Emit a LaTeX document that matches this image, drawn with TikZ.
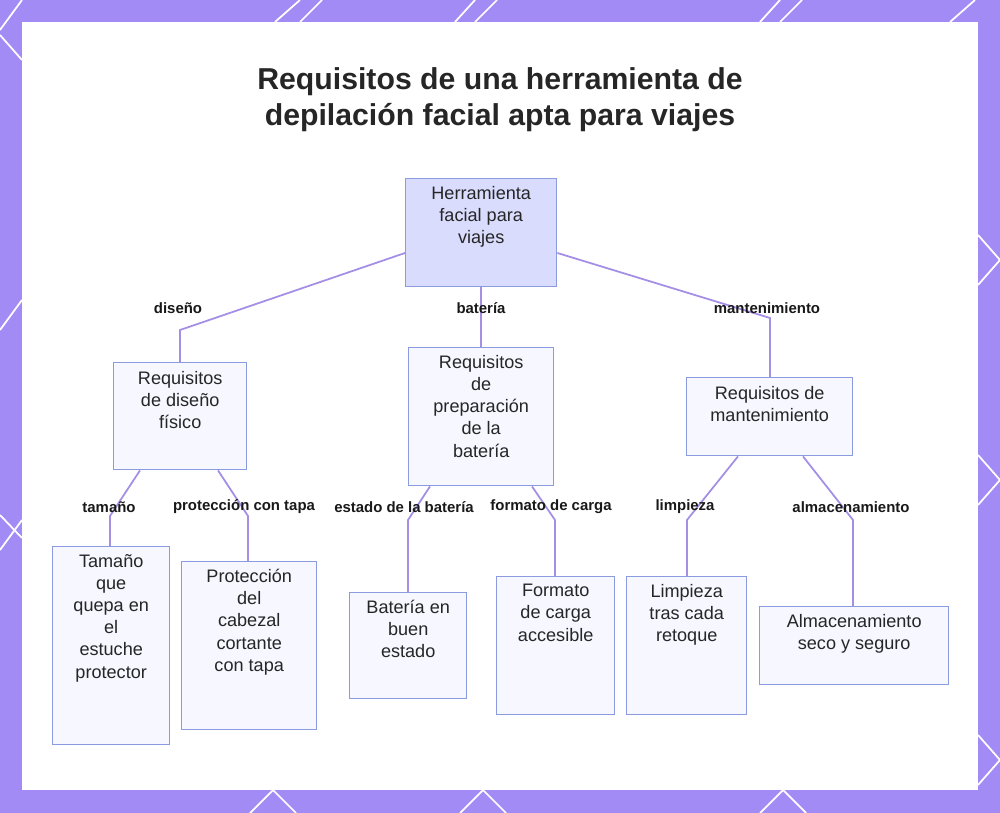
\documentclass[tikz,border=0pt]{standalone}
\usepackage{fontspec}
\setmainfont{Liberation Sans}
\begin{document}
\begin{tikzpicture}[x=0.02cm,y=-0.02cm,
 box/.style={draw=boxb,fill=boxf,line width=0.8pt,anchor=north west,inner sep=0pt},
 txt/.style={anchor=north,align=center,font=\fontsize{10.3}{12.6}\selectfont,text=black!85,inner sep=0pt},
 lab/.style={font=\bfseries\fontsize{8.5}{10}\selectfont,text=black!90,inner sep=1pt},
 con/.style={draw=linec,line width=1pt}]
\definecolor{purp}{HTML}{A38BF5}
\definecolor{boxb}{HTML}{8A9BE0}
\definecolor{boxf}{HTML}{F6F7FF}
\definecolor{rootf}{HTML}{D9DCFD}
\definecolor{linec}{HTML}{A48EE6}
\useasboundingbox (0,0) rectangle (1000,813);
\fill[purp] (0,0) rectangle (1000,813);
\begin{scope}
\clip (0,0) rectangle (1000,813);
\foreach \a/\b in {275/300,455/475,760/780,950/975}{
 \draw[white,line width=1pt] (\a,22) -- (\b,0);}
\foreach \a/\b in {300/275,475/455,780/760}{
 \draw[white,line width=1pt] (\a,22) -- (\a+22,0);}
\foreach \a in {0,300,520}{\draw[white,line width=1pt] (0,\a+30) -- (22,\a);}
\foreach \a in {260,480,760}{\draw[white,line width=1pt] (978,\a+25) -- (1000,\a);}
\foreach \a in {260,480,760}{\draw[white,line width=1pt] (978,\a-25) -- (1000,\a);}
\draw[white,line width=1pt] (0,515) -- (22,538);
\draw[white,line width=1pt] (0,35) -- (22,60);
\foreach \a in {250,460,760}{\draw[white,line width=1pt] (\a,813) -- (\a+23,790); \draw[white,line width=1pt] (\a+23,790) -- (\a+46,813);}
\end{scope}
\fill[white!97!black!2] (22,22) rectangle (978,790);
\node[font=\bfseries\fontsize{17.2}{20.5}\selectfont,align=center,text=black!85] (title) at (500,100) {Requisitos de una herramienta de\\depilación facial apta para viajes};
% boxes
\node[box,fill=rootf,minimum width=151*0.02cm,minimum height=108*0.02cm] (root) at (405,178) {};
\node[txt] (rootT) at ([yshift=-0.16cm]root.north) {Herramienta\\facial para\\viajes};
\node[box,minimum width=133*0.02cm,minimum height=107*0.02cm] (A) at (113,362) {};
\node[txt] (AT) at ([yshift=-0.18cm]A.north) {Requisitos\\de diseño\\físico};
\node[box,minimum width=145*0.02cm,minimum height=138*0.02cm] (B) at (408,347) {};
\node[txt] (BT) at ([yshift=-0.16cm]B.north) {Requisitos\\de\\preparación\\de la\\batería};
\node[box,minimum width=166*0.02cm,minimum height=78*0.02cm] (C) at (686,377) {};
\node[txt] (CT) at ([yshift=-0.18cm]C.north) {Requisitos de\\mantenimiento};
\node[box,minimum width=117*0.02cm,minimum height=198*0.02cm] (L1) at (52,546) {};
\node[txt] (L1T) at ([yshift=-0.16cm]L1.north) {Tamaño\\que\\quepa en\\el\\estuche\\protector};
\node[box,minimum width=135*0.02cm,minimum height=168*0.02cm] (L2) at (181,561) {};
\node[txt] (L2T) at ([yshift=-0.16cm]L2.north) {Protección\\del\\cabezal\\cortante\\con tapa};
\node[box,minimum width=117*0.02cm,minimum height=106*0.02cm] (L3) at (349,592) {};
\node[txt] (L3T) at ([yshift=-0.16cm]L3.north) {Batería en\\buen\\estado};
\node[box,minimum width=118*0.02cm,minimum height=138*0.02cm] (L4) at (496,576) {};
\node[txt] (L4T) at ([yshift=-0.16cm]L4.north) {Formato\\de carga\\accesible};
\node[box,minimum width=120*0.02cm,minimum height=138*0.02cm] (L5) at (626,576) {};
\node[txt] (L5T) at ([yshift=-0.16cm]L5.north) {Limpieza\\tras cada\\retoque};
\node[box,minimum width=189*0.02cm,minimum height=78*0.02cm] (L6) at (759,606) {};
\node[txt] (L6T) at ([yshift=-0.16cm]L6.north) {Almacenamiento\\seco y seguro};
% connectors
\coordinate (j1) at (180,330); \coordinate (j3) at (770,318);
\draw[con] (root.west|-0,253) -- (j1) -- (A.north-|j1);
\draw[con] (root.south-|481,0) -- (B.north-|481,0);
\draw[con] (root.east|-0,253) -- (j3) -- (C.north-|j3);
\coordinate (k1) at (110,516); \coordinate (k2) at (248,516);
\coordinate (k3) at (408,520); \coordinate (k4) at (555,520);
\coordinate (k5) at (687,520); \coordinate (k6) at (853,520);
\draw[con] (A.south-|140,0) -- (k1) -- (L1.north-|k1);
\draw[con] (A.south-|218,0) -- (k2) -- (L2.north-|k2);
\draw[con] (B.south-|430,0) -- (k3) -- (L3.north-|k3);
\draw[con] (B.south-|532,0) -- (k4) -- (L4.north-|k4);
\draw[con] (C.south-|738,0) -- (k5) -- (L5.north-|k5);
\draw[con] (C.south-|803,0) -- (k6) -- (L6.north-|k6);
% labels
\node[lab] (la) at (178,308) {diseño};
\node[lab] (lb) at (481,308) {batería};
\node[lab] (lc) at (767,308) {mantenimiento};
\node[lab] (l1) at (109,507) {tamaño};
\node[lab] (l2) at (244,507) {protección con tapa};
\node[lab] (l3) at (404,507) {estado de la batería};
\node[lab] (l4) at (551,507) {formato de carga};
\node[lab] (l5) at (685,507) {limpieza};
\node[lab] (l6) at (851,507) {almacenamiento};
\end{tikzpicture}
\end{document}
